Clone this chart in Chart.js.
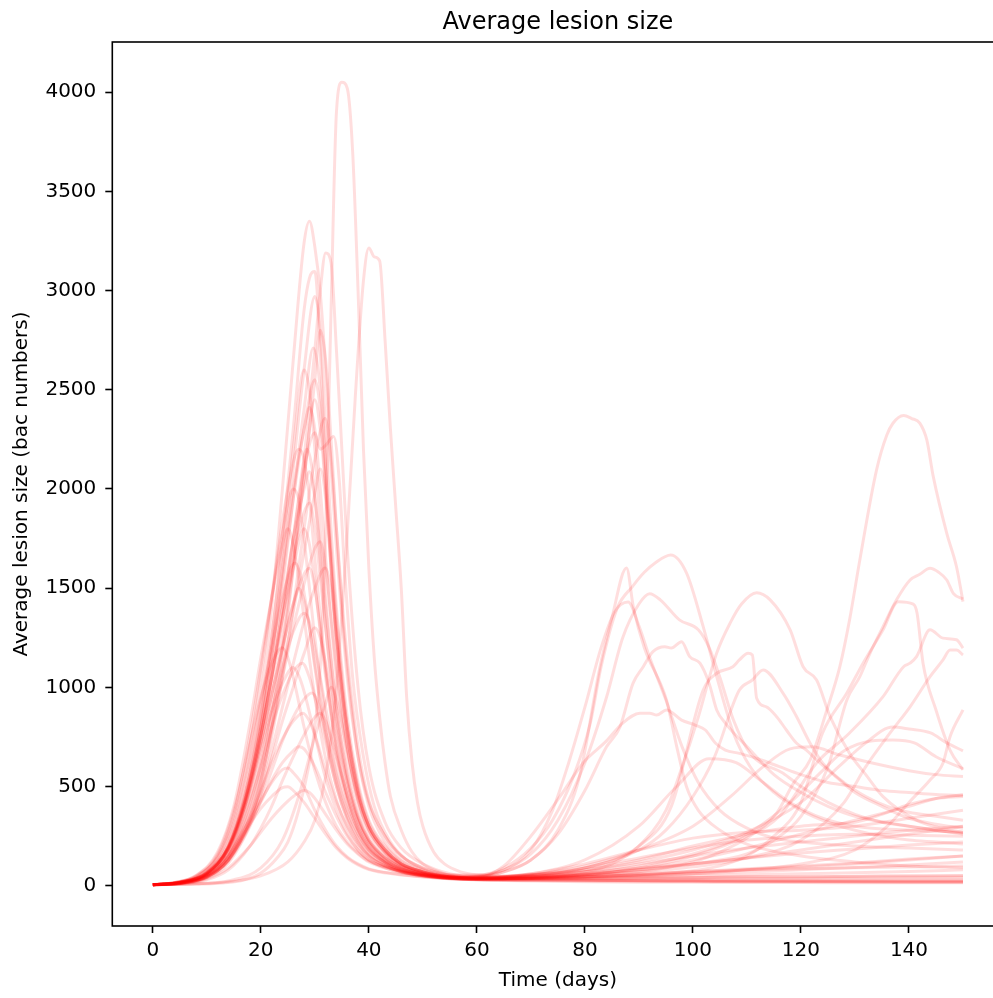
<!DOCTYPE html>
<html>
<head>
<meta charset="utf-8">
<script src="https://cdn.jsdelivr.net/npm/chart.js@4/dist/chart.umd.min.js"></script>
<style>
  html, body { margin: 0; padding: 0; background: #fff; overflow: hidden; }
  canvas { display: block; }
</style>
</head>
<body>
<canvas id="lesions" width="1010" height="998"></canvas>
<script>
// ---- axis ticks ----
var dayTicks  = [0, 20, 40, 60, 80, 100, 120, 140];
var sizeTicks = [0, 500, 1000, 1500, 2000, 2500, 3000, 3500, 4000];

// ---- simulation runs: [day, average lesion size] ----
var run01 = [[0,5],[6,8],[13,14],[17,30],[20,64],[23,140],[25,220],[27,380],[29,620],[30,800],[31,1100],[32,1800],[33,2900],[34,3900],[35,4050],[36,4020],[37,3700],[38,3000],[39,2200],[40,1600],[41,1150],[42,850],[43,620],[44,450],[46,280],[48,170],[50,110],[53,70],[56,45],[60,35],[70,30],[80,28],[90,25],[100,22],[110,22],[120,20],[130,20],[140,18],[150,18]];
var run02 = [[0,5],[8,10],[14,20],[20,50],[25,120],[28,220],[30,330],[32,550],[34,1000],[36,1776],[37.5,2470],[39,3050],[40,3215],[41,3170],[42,3150],[43,2750],[44,2300],[45,1900],[46,1500],[47,950],[48,620],[49,420],[50,300],[52,170],[54,110],[57,70],[60,55],[65,50],[70,55],[80,70],[90,90],[100,110],[110,140],[120,180],[130,220],[140,260],[150,300]];
var run03 = [[0,5],[5,18],[10,70],[14,220],[17,500],[20,950],[22,1400],[24,2000],[26,2650],[28,3240],[29,3350],[30,3220],[31,2990],[32,2600],[33,2100],[34,1700],[36,1050],[38,650],[40,420],[43,250],[46,150],[50,90],[55,55],[60,55],[65,80],[70,180],[74,380],[77,620],[80,900],[83,1200],[85.5,1380],[88,1430],[90,1310],[92,1150],[95,936],[98,700],[101,520],[105,380],[110,290],[115,240],[120,220],[130,200],[140,190],[150,180]];
var run04 = [[0,5],[5,17],[10,65],[14,200],[17,440],[20,850],[22,1250],[24,1750],[26,2300],[28,2900],[29,3063],[30,3096],[31,2700],[32,2100],[33,1600],[34,1200],[36,700],[38,430],[40,280],[43,170],[46,110],[50,70],[55,45],[60,35],[70,30],[80,28],[90,25],[100,24],[110,22],[120,22],[130,20],[140,20],[150,20]];
var run05 = [[0,5],[6,18],[10,45],[14,130],[18,330],[20,520],[22,800],[24,1150],[26,1600],[28,2150],[30,2700],[31,3000],[32,3190],[33,3140],[34,2700],[35,2200],[36,1700],[38,1000],[40,600],[43,320],[46,190],[50,110],[55,60],[60,45],[70,45],[80,55],[90,70],[100,120],[105,170],[110,240],[115.5,366],[118.6,516],[121.7,634],[124.8,886],[127.2,1104],[129,1340],[130.9,1642],[134,2096],[135.9,2272],[137,2330],[139,2370],[140.5,2355],[142,2332],[143.3,2247],[144.5,2062],[147,1776],[148.8,1608],[150,1432]];
var run06 = [[0,5],[5,16],[10,60],[14,190],[17,420],[20,800],[22,1150],[24,1600],[26,2100],[28,2600],[30,2970],[31,2800],[32,2300],[33,1800],[34,1400],[36,850],[38,520],[40,330],[43,200],[46,125],[50,75],[55,45],[60,35],[70,35],[80,38],[90,40],[100,42],[110,45],[120,45],[130,48],[140,50],[150,50]];
var run07 = [[0,5],[5,16],[10,60],[14,185],[17,400],[20,760],[22,1100],[24,1500],[26,1950],[28,2400],[29.7,2710],[31,2500],[32,2100],[33,1700],[34,1350],[36,800],[38,480],[40,300],[43,180],[46,110],[50,70],[55,45],[60,50],[65,90],[70,190],[74,330],[78,560],[81,820],[83,1104],[86,1400],[88.8,1508],[91,1580],[93,1627],[95.9,1667],[98.8,1577],[101.9,1306],[104.4,1054],[107.5,770],[110.6,600],[115,470],[120,380],[125,320],[130,280],[135,250],[140,230],[145,220],[150,210]];
var run08 = [[0,5],[6,18],[10,50],[14,150],[17,330],[20,620],[22,900],[24,1250],[26,1650],[28,2050],[30,2450],[31,2300],[32,2000],[33,1650],[34,1300],[36,800],[38,480],[40,300],[43,180],[46,110],[50,70],[55,45],[60,40],[70,45],[80,70],[85,110],[90,200],[95,380],[98,600],[101,850],[104.4,1173],[107,1330],[109,1420],[111.8,1477],[114.3,1441],[118,1290],[120.4,1104],[122.9,1037],[125.4,852],[129,667],[132,560],[135.2,449],[141.4,331],[146,290],[150,270]];
var run09 = [[0,5],[5,18],[10,68],[14,210],[17,460],[20,850],[22,1200],[24,1600],[26,2000],[28,2300],[29,2410],[30,2300],[31,2000],[32,1650],[34,1050],[36,640],[38,400],[40,260],[43,160],[46,100],[50,65],[55,42],[60,35],[70,38],[80,45],[90,55],[100,65],[110,80],[120,95],[130,110],[140,130],[150,150]];
var run10 = [[0,5],[6,16],[10,45],[14,130],[18,330],[20,500],[22,750],[24,1050],[26,1400],[28,1800],[30,2150],[31.9,2357],[33,2150],[34,1800],[35,1450],[36,1150],[38,700],[40,430],[43,250],[46,150],[50,90],[55,55],[60,45],[70,50],[80,60],[90,80],[100,110],[110,160],[115,230],[120,350],[125,600],[128.5,936],[130.9,1054],[132.8,1173],[135.2,1306],[137.7,1441],[140.2,1541],[142,1570],[143.9,1600],[145.5,1580],[147,1541],[148.2,1474],[150,1445]];
var run11 = [[0,5],[6,17],[10,55],[14,170],[17,380],[20,700],[22,1000],[24,1350],[26,1750],[28,2100],[30,2283],[31,2200],[32,2220],[33.5,2264],[34.5,2050],[35.5,1600],[37,1050],[39,650],[41,400],[44,220],[47,130],[50,85],[55,50],[60,50],[65,80],[70,160],[75,330],[80,620],[84,950],[87,1250],[90,1420],[92,1472],[94,1440],[97.5,1340],[101,1290],[103,1200],[105,1050],[107.5,835],[110.6,667],[116.7,567],[120,500],[125,420],[130,360],[135,320],[140,300],[145,280],[150,265]];
var run12 = [[0,5],[5,16],[10,62],[14,190],[17,410],[20,760],[22,1050],[24,1400],[26,1750],[28,2000],[29,2087],[30,1950],[31,1700],[32,1400],[34,900],[36,560],[38,350],[40,230],[43,140],[46,90],[50,60],[55,40],[60,35],[70,38],[80,45],[90,55],[100,75],[105,100],[110,150],[115,250],[120,420],[124,770],[128.5,971],[131.5,1122],[135.2,1290],[138,1432],[140.8,1420],[141.5,1374],[142.6,1122],[145,886],[147.6,684],[150,584]];
var run13 = [[0,5],[5,17],[10,64],[14,195],[17,420],[20,760],[22,1050],[24,1350],[26,1650],[28,1880],[29,1929],[30,1800],[31,1550],[32,1300],[34,850],[36,530],[38,330],[40,220],[43,130],[46,85],[50,55],[55,40],[60,45],[65,70],[70,130],[75,260],[80,480],[84,700],[86.5,801],[88.9,1020],[90.8,1104],[92.6,1180],[94.8,1205],[96,1198],[97.9,1230],[99.4,1155],[101.3,1122],[103,1020],[104.4,886],[106,820],[110.6,684],[115,560],[120,470],[125,400],[130,350],[140,300],[150,260]];
var run14 = [[0,5],[6,16],[10,48],[14,140],[18,350],[20,530],[22,780],[24,1050],[26,1300],[28,1520],[30,1700],[31,1734],[32,1600],[33,1350],[34,1100],[36,700],[38,430],[40,280],[43,165],[46,100],[50,65],[55,42],[60,38],[70,50],[80,90],[90,200],[96,400],[101.9,986],[104.4,1071],[107.4,1104],[108.6,1138],[110.2,1172],[111,1163],[111.8,945],[113.6,902],[115.5,852],[117.3,785],[119.2,718],[121,684],[122.9,634],[126,560],[130,470],[135,400],[140,340],[145,310],[150,290]];
var run15 = [[0,5],[4,15],[8,45],[12,140],[15,320],[18,650],[20,930],[22,1200],[24,1450],[26.3,1627],[27.5,1550],[29,1300],[30,1100],[32,750],[34,500],[36,330],[38,220],[40,150],[43,100],[46,70],[50,50],[55,35],[60,32],[70,38],[80,55],[90,90],[100,150],[110,250],[116,350],[122.9,619],[129,770],[135.2,953],[139,1104],[140.2,1122],[141.4,1155],[143.9,1290],[146.3,1248],[148.8,1240],[150,1198]];
var run16 = [[0,5],[6,15],[10,42],[14,125],[18,310],[20,470],[22,680],[24,900],[26,1120],[28,1330],[30,1500],[31.9,1602],[33,1500],[34,1250],[35,1000],[36,800],[38,500],[40,320],[43,190],[46,115],[50,70],[55,45],[60,40],[70,45],[80,55],[90,70],[100,95],[110,140],[120,230],[128,420],[132,600],[136.5,770],[140.2,902],[143.9,1054],[146.3,1138],[147.6,1188],[148.8,1188],[150,1163]];
var run17 = [[0,5],[5,15],[10,55],[14,165],[17,360],[20,640],[22,880],[24,1100],[26,1280],[28,1374],[29,1330],[30,1200],[32,900],[34,620],[36,420],[38,280],[40,190],[43,120],[46,80],[50,55],[55,38],[60,32],[70,35],[80,42],[90,50],[100,60],[110,80],[120,110],[130,180],[136,300],[140,420],[143.9,533],[146.3,619],[147.6,751],[150,886]];
var run18 = [[0,5],[5,16],[10,55],[14,160],[17,340],[20,600],[22,800],[24,960],[26,1080],[27.7,1122],[29,1050],[30,950],[32,720],[34,500],[36,340],[38,230],[40,160],[43,105],[46,72],[50,50],[55,38],[60,40],[65,100],[70,250],[75.4,450],[79.7,620],[84,730],[87,820],[90.2,870],[92,870],[93.3,860],[95.1,886],[97.9,835],[100.4,810],[102.3,785],[104.2,718],[106,684],[108.6,667],[112,640],[116,600],[120,560],[125,520],[130,500],[135,480],[140,470],[145,460],[150,455]];
var run19 = [[0,5],[6,14],[10,40],[14,115],[18,300],[20,430],[22,580],[24,730],[26,850],[28,940],[29.4,971],[30.5,930],[32,780],[34,560],[36,380],[38,260],[40,180],[43,115],[46,78],[50,55],[55,40],[60,38],[70,50],[80,90],[90,180],[95,280],[100,450],[104,650],[108.6,986],[111,1037],[113,1088],[116.7,970],[119.2,852],[121.7,718],[124,619],[128,520],[132,450],[136,400],[140,370],[145,350],[150,330]];
var run20 = [[0,5],[5,14],[10,45],[14,130],[17,280],[20,480],[22,620],[24,740],[26,830],[27.8,870],[29,830],[30,760],[32,580],[34,420],[36,300],[38,210],[40,150],[43,100],[46,70],[50,50],[55,38],[60,45],[65,70],[70,130],[75,280],[79,550],[82.8,1104],[85,1350],[87.7,1602],[89,1400],[91,1200],[95.1,936],[97,701],[98.8,500],[101,380],[105,280],[110,210],[120,150],[130,120],[140,100],[150,90]];
var run21 = [[0,5],[6,12],[10,30],[14,80],[18,200],[20,290],[22,400],[24,530],[26,650],[28,760],[30,850],[31,870],[32,830],[34,650],[36,460],[38,320],[40,220],[43,140],[46,95],[50,62],[55,45],[60,42],[70,55],[80,80],[90,120],[100,180],[110,270],[120,420],[127,600],[132,720],[137,800],[140,790],[144,770],[147,720],[150,680]];
var run22 = [[0,5],[5,14],[10,55],[14,150],[17,290],[20,430],[22,520],[24,585],[25,594],[26,570],[28,499],[30,380],[32,280],[34,200],[36,145],[38,110],[40,85],[45,60],[50,45],[55,35],[60,32],[70,40],[80,60],[90,100],[100,160],[110,260],[118,420],[124,580],[128,680],[133,730],[137,735],[141,720],[145,650],[150,590]];
var run23 = [[0,5],[5,13],[10,50],[14,140],[17,270],[20,390],[22,450],[24,495],[25,499],[26,480],[28,420],[30,340],[32,260],[34,190],[36,140],[38,105],[40,82],[45,58],[50,44],[55,35],[60,33],[70,40],[80,55],[90,85],[100,130],[110,190],[120,260],[130,330],[140,400],[145,440],[150,460]];
var run24 = [[0,5],[6,12],[10,35],[14,90],[18,200],[20,270],[22,340],[24,400],[26,450],[28,480],[29,470],[30,440],[32,360],[34,280],[36,210],[38,160],[40,120],[45,75],[50,52],[55,40],[60,36],[70,45],[80,80],[90,130],[100,200],[110,260],[120,300],[125,310],[130,320],[135,360],[140,410],[145,440],[150,450]];
var run25 = [[0,5],[4,16],[8,50],[12,160],[15,380],[18,720],[20,950],[22,1120],[24,1200],[25,1150],[26,1050],[28,800],[30,580],[32,420],[34,300],[36,220],[38,165],[40,125],[45,80],[50,55],[55,40],[60,38],[70,60],[80,110],[90,180],[100,240],[110,270],[120,280],[130,300],[140,340],[150,380]];
var run26 = [[0,5],[4,15],[8,48],[12,150],[15,360],[18,760],[20,1100],[22,1450],[24,1780],[26,2000],[27,1950],[28,1750],[29,1500],[30,1250],[32,850],[34,560],[36,380],[38,260],[40,180],[43,120],[46,82],[50,58],[55,40],[60,35],[70,45],[80,70],[90,110],[100,150],[110,190],[120,220],[130,250],[140,280],[150,300]];
var run27 = [[0,5],[5,18],[9,60],[13,190],[16,440],[19,870],[21,1250],[23,1650],[25,2000],[27,2200],[28,2150],[29,1950],[30,1650],[32,1100],[34,700],[36,450],[38,290],[40,200],[43,125],[46,85],[50,58],[55,42],[60,40],[70,55],[80,90],[90,140],[100,190],[110,230],[120,250],[130,260],[140,255],[150,250]];
var run28 = [[0,5],[4,16],[8,52],[12,170],[15,400],[18,820],[20,1150],[22,1450],[24,1720],[25,1800],[26,1720],[27,1550],[28,1350],[30,950],[32,640],[34,430],[36,290],[38,200],[40,145],[43,100],[46,70],[50,50],[55,38],[60,35],[70,40],[80,55],[90,80],[100,110],[110,140],[120,165],[130,185],[140,205],[150,220]];
var run29 = [[0,5],[5,17],[10,66],[14,200],[17,450],[20,860],[22,1250],[24,1700],[26,2200],[28,2600],[29,2500],[30,2200],[31,1800],[32,1450],[34,900],[36,560],[38,350],[40,230],[43,140],[46,90],[50,60],[55,42],[60,36],[70,38],[80,45],[90,55],[100,70],[110,85],[120,100],[130,115],[140,135],[150,150]];
var run30 = [[0,5],[6,16],[10,50],[14,150],[18,380],[20,580],[22,850],[24,1200],[26,1600],[28,2050],[30,2550],[31,2800],[32,2650],[33,2250],[34,1800],[35,1400],[36,1100],[38,650],[40,400],[43,220],[46,130],[50,80],[55,50],[60,40],[70,40],[80,45],[90,52],[100,60],[110,70],[120,80],[130,92],[140,105],[150,120]];
var run31 = [[0,5],[5,15],[10,58],[14,180],[17,390],[20,720],[22,960],[24,1200],[26,1420],[27,1500],[28,1440],[29,1300],[30,1120],[32,780],[34,520],[36,350],[38,240],[40,165],[43,110],[46,75],[50,52],[55,38],[60,33],[70,35],[80,40],[90,45],[100,50],[110,55],[120,60],[130,65],[140,72],[150,80]];
var run32 = [[0,5],[6,14],[10,42],[14,125],[18,320],[20,460],[22,640],[24,830],[26,1000],[28,1170],[30,1300],[31,1250],[32,1120],[34,780],[36,520],[38,340],[40,230],[43,145],[46,95],[50,63],[55,45],[60,38],[70,36],[80,38],[90,40],[100,42],[110,44],[120,45],[130,47],[140,48],[150,50]];
var run33 = [[0,5],[5,16],[10,62],[14,190],[17,400],[20,690],[22,880],[24,1020],[26,1100],[27,1060],[28,980],[30,760],[32,540],[34,380],[36,260],[38,180],[40,130],[43,90],[46,65],[50,48],[55,36],[60,32],[70,30],[80,30],[90,30],[100,30],[110,30],[120,30],[130,30],[140,30],[150,30]];
var run34 = [[0,5],[5,16],[10,60],[14,185],[17,400],[20,720],[22,960],[24,1200],[26,1420],[28,1570],[29,1600],[30,1500],[31,1300],[32,1080],[34,700],[36,450],[38,290],[40,195],[43,120],[46,80],[50,55],[55,38],[60,30],[70,26],[80,24],[90,22],[100,22],[110,20],[120,20],[130,20],[140,20],[150,20]];
var run35 = [[0,5],[6,16],[10,48],[14,145],[18,370],[20,560],[22,800],[24,1080],[26,1380],[28,1680],[30,1980],[31,2100],[32,1950],[33,1600],[34,1250],[36,760],[38,460],[40,290],[43,170],[46,105],[50,65],[55,42],[60,30],[70,24],[80,20],[90,18],[100,17],[110,16],[120,16],[130,15],[140,15],[150,15]];
var run36 = [[0,5],[5,17],[10,64],[14,200],[17,430],[20,780],[22,1050],[24,1350],[26,1600],[28,1800],[29,1720],[30,1520],[31,1280],[32,1050],[34,680],[36,430],[38,280],[40,185],[43,115],[46,75],[50,52],[55,38],[60,30],[70,28],[80,27],[90,26],[100,26],[110,25],[120,25],[130,25],[140,25],[150,25]];
var run37 = [[0,5],[10,12],[15,30],[20,90],[24,230],[27,450],[30,750],[32,920],[33,1000],[34,940],[35,820],[36,680],[38,450],[40,300],[43,180],[46,110],[50,70],[55,45],[60,36],[70,34],[80,35],[90,36],[100,37],[110,38],[120,38],[130,39],[140,40],[150,40]];
var run38 = [[0,5],[5,13],[10,45],[14,130],[17,260],[20,420],[22,530],[24,620],[26,680],[27,700],[28,690],[30,600],[32,470],[34,350],[36,250],[38,180],[40,130],[45,80],[50,55],[55,40],[60,35],[70,40],[80,50],[90,62],[100,72],[110,80],[120,86],[130,90],[140,95],[150,100]];
var run39 = [[0,5],[5,18],[10,64],[14,195],[17,430],[20,800],[22,1150],[24,1550],[26,1950],[28,2300],[30,2550],[31,2400],[32,2000],[33,1600],[34,1250],[36,760],[38,460],[40,300],[43,180],[46,110],[50,70],[55,45],[60,40],[70,60],[80,130],[90,300],[97,500],[103,640],[108,620],[113,520],[118,420],[124,340],[130,300],[140,280],[150,270]];
var run40 = [[0,5],[5,17],[10,62],[14,190],[17,420],[20,760],[22,1050],[24,1400],[26,1750],[28,2150],[28.5,2200],[29.5,2100],[30.5,1800],[32,1300],[34,800],[36,500],[38,320],[40,210],[43,130],[46,85],[50,58],[55,42],[60,38],[70,55],[80,100],[90,180],[100,300],[107,450],[113,600],[118,690],[122,700],[127,660],[133,620],[140,580],[145,560],[150,550]];

var runs = [run01, run02, run03, run04, run05, run06, run07, run08, run09, run10,
            run11, run12, run13, run14, run15, run16, run17, run18, run19, run20,
            run21, run22, run23, run24, run25, run26, run27, run28, run29, run30,
            run31, run32, run33, run34, run35, run36, run37, run38, run39, run40];

var FONT = 'DejaVu Sans';
Chart.defaults.font.family = FONT;
Chart.defaults.color = '#000';

// axes frame + centred title over the plot area
var framePlugin = {
  id: 'frame',
  afterDraw: function(chart) {
    var a = chart.chartArea, ctx = chart.ctx;
    ctx.save();
    ctx.strokeStyle = '#000';
    ctx.lineWidth = 1.6;
    ctx.strokeRect(a.left, a.top, a.right - a.left, a.bottom - a.top);
    ctx.fillStyle = '#000';
    ctx.font = '24px "' + FONT + '"';
    ctx.textAlign = 'center';
    ctx.textBaseline = 'alphabetic';
    ctx.fillText('Average lesion size', (a.left + a.right) / 2, 29);
    ctx.restore();
  }
};

var datasets = runs.map(function(run) {
  return {
    data: run.map(function(p) { return { x: p[0], y: p[1] }; }),
    borderColor: 'rgba(255,0,0,0.13)',
    borderWidth: 3,
    pointRadius: 0,
    fill: false,
    cubicInterpolationMode: 'monotone'
  };
});

function plainLabel(v) { return String(v); }

new Chart(document.getElementById('lesions'), {
  type: 'line',
  data: { datasets: datasets },
  plugins: [framePlugin],
  options: {
    responsive: false,
    animation: false,
    devicePixelRatio: 1,
    layout: { padding: { left: 0, top: 42, right: 6.5, bottom: 0 } },
    plugins: { legend: { display: false }, tooltip: { enabled: false } },
    scales: {
      x: {
        type: 'linear',
        min: -7.5,
        max: 157.5,
        afterFit: function(s) { s.height = 72; },
        afterBuildTicks: function(s) { s.ticks = dayTicks.map(function(v) { return { value: v }; }); },
        grid: { drawOnChartArea: false, tickLength: 7, tickColor: '#000', tickWidth: 1.6 },
        border: { display: false },
        ticks: { font: { size: 20 }, padding: 6, maxRotation: 0, callback: plainLabel },
        title: { display: true, text: 'Time (days)', font: { size: 20 }, padding: { top: 0, bottom: 5 } }
      },
      y: {
        min: -203,
        max: 4253,
        afterFit: function(s) { s.width = 112.3; },
        afterBuildTicks: function(s) { s.ticks = sizeTicks.map(function(v) { return { value: v }; }); },
        grid: { drawOnChartArea: false, tickLength: 7, tickColor: '#000', tickWidth: 1.6 },
        border: { display: false },
        ticks: { font: { size: 20 }, padding: 9, callback: plainLabel },
        title: { display: true, text: 'Average lesion size (bac numbers)', font: { size: 20 }, padding: { top: 10, bottom: 0 } }
      }
    }
  }
});
</script>
</body>
</html>
